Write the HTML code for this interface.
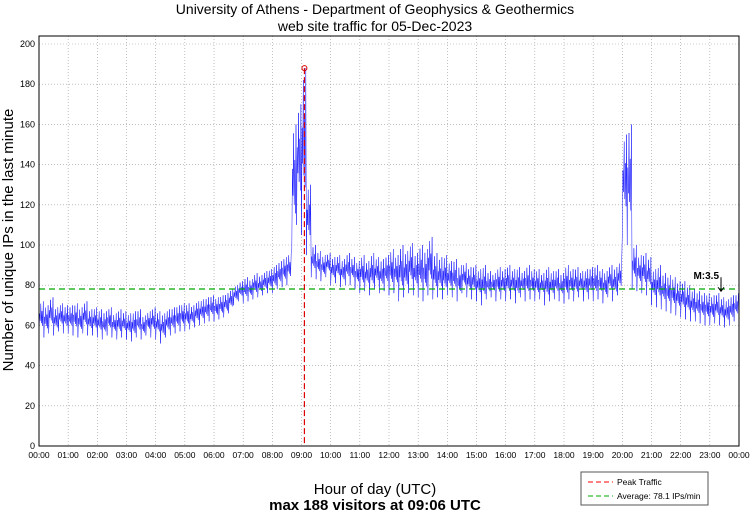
<!DOCTYPE html>
<html><head><meta charset="utf-8"><style>
body{margin:0;background:#fff;}
svg{display:block;font-family:"Liberation Sans",sans-serif;}
</style></head><body>
<svg id="chart" width="750" height="511">
<text x="375" y="14" text-anchor="middle" font-size="14">University of Athens - Department of Geophysics &amp; Geothermics</text>
<text x="375" y="31" text-anchor="middle" font-size="14">web site traffic for 05-Dec-2023</text>
<text transform="translate(13,240) rotate(-90)" text-anchor="middle" font-size="15">Number of unique IPs in the last minute</text>
<text x="375" y="494" text-anchor="middle" font-size="15">Hour of day (UTC)</text>
<text x="375" y="510" text-anchor="middle" font-size="15" font-weight="bold">max 188 visitors at 09:06 UTC</text>
<g id="grid"></g><g id="ticks"></g><g id="series"></g><g id="overlay"></g>
<rect x="39" y="36" width="700" height="410" fill="none" stroke="#000" stroke-width="1"/>
<g>
<rect x="581" y="472" width="127" height="33" fill="#fff" stroke="#555"/>
<line x1="588" y1="482" x2="613" y2="482" stroke="red" stroke-dasharray="5,3"/>
<text x="617" y="485" font-size="8.5">Peak Traffic</text>
<line x1="588" y1="496" x2="613" y2="496" stroke="#0a0" stroke-dasharray="5,3"/>
<text x="617" y="499" font-size="8.5">Average: 78.1 IPs/min</text>
</g>
</svg>
<script>
const lows=[55,54,56,55,57,56, 56,55,54,56,55,55, 54,53,55,54,53,54, 53,52,54,53,55,54, 53,51,54,55,56,57, 57,58,59,60,61,62,
62,63,64,66,70,72, 71,72,73,74,75,76, 76,78,79,80,98,110, 105,95,84,83,82,84, 80,81,79,80,80,78, 76,77,75,78,76,77,
75,76,72,74,76,75, 74,72,75,73,74,73, 75,74,72,76,74,73, 72,70,73,74,72,73, 72,73,71,74,72,73, 72,73,70,72,73,72,
71,73,72,74,72,73, 72,73,71,74,72,75, 105,100,78,77,76,75, 70,69,68,67,66,65, 64,63,62,62,61,60, 60,61,60,59,60,62];
const highs=[72,70,74,69,71,70, 70,71,69,72,68,69, 68,67,69,66,68,67, 66,67,68,65,67,69, 67,66,68,69,70,71, 71,70,72,73,74,75,
74,75,76,78,80,82, 84,83,86,85,87,88, 90,92,94,96,160,170, 188,130,100,97,95,96, 94,95,93,96,94,92, 95,92,96,94,93,95,
98,95,100,97,101,96, 100,98,104,96,94,95, 92,93,90,91,89,90, 88,90,87,86,89,88, 90,88,89,87,90,88, 88,86,89,87,88,86,
90,88,89,87,88,89, 90,88,87,90,89,92, 155,160,100,95,96,94, 88,90,86,85,84,82, 82,80,78,77,76,76, 75,76,74,73,75,76];
const yTicks=[0,20,40,60,80,100,120,140,160,180,200];
const xTickLabels=["00:00","01:00","02:00","03:00","04:00","05:00","06:00","07:00","08:00","09:00","10:00","11:00","12:00","13:00","14:00","15:00","16:00","17:00","18:00","19:00","20:00","21:00","22:00","23:00","00:00"];
const peakValue=188, peakMinute=546, averageValue=78.1;
const mLabel="M:3.5", mMinute=1403, mValue=76;

const NS="http://www.w3.org/2000/svg";
const X0=39,X1=739,Y0=446,YS=2.01;
const xs=m=>X0+m*(X1-X0)/1440;
const ys=v=>Y0-v*YS;
function mk(tag,parent,attrs){const e=document.createElementNS(NS,tag);for(const k in attrs)e.setAttribute(k,attrs[k]);document.getElementById(parent).appendChild(e);return e;}

yTicks.forEach(v=>{
  const g=mk('line','grid',{x1:X0,x2:X1,y1:ys(v),y2:ys(v),stroke:'#999','stroke-width':0.6,'stroke-dasharray':'1,2'});
  
  
  const t=mk('text','ticks',{x:X0-4,y:ys(v)+3,'text-anchor':'end','font-size':9});
  t.textContent=v;
  
  
});
xTickLabels.forEach((lab,i)=>{
  const x=xs(i*60);
  const g=mk('line','grid',{x1:x,x2:x,y1:36,y2:Y0,stroke:'#999','stroke-width':0.6,'stroke-dasharray':'1,2'});
  
  
  const t=mk('text','ticks',{x:x,y:458,'text-anchor':'middle','font-size':8.5});
  t.textContent=lab;
  
  
});
let pts=[];
const sub=8;
lows.forEach((lo,i)=>{
  const hi=highs[i];
  for(let k=0;k<sub;k++){
    const m=i*10+k*10/sub;
    const v=(k%2===0)?lo+(hi-lo)*((k*3)%7)/14:hi-(hi-lo)*((k*5)%7)/14;
    pts.push(xs(m).toFixed(1)+','+ys(v).toFixed(1));
  }
});
const line=mk('polyline','series',{points:pts.join(' '),fill:'none',stroke:'#00f','stroke-width':0.45});



const avg=mk('line','overlay',{x1:X0,x2:X1,y1:ys(averageValue),y2:ys(averageValue),stroke:'#0a0','stroke-width':1.2,'stroke-dasharray':'6,4'});


const pk=mk('line','overlay',{x1:xs(peakMinute),x2:xs(peakMinute),y1:ys(peakValue),y2:Y0,stroke:'#d00','stroke-width':1.2,'stroke-dasharray':'6,3'});


const pc=mk('circle','overlay',{cx:xs(peakMinute),cy:ys(peakValue),r:2.5,fill:'none',stroke:'#d00','stroke-width':1});


const mt=mk('text','overlay',{x:xs(mMinute)-2,y:ys(mValue)-14,'text-anchor':'end','font-size':10,'font-weight':'bold'});
mt.textContent=mLabel;


const ma=mk('path','overlay',{d:`M${xs(mMinute)} ${ys(mValue)-16} V${ys(mValue)-2} M${xs(mMinute)-3} ${ys(mValue)-6} L${xs(mMinute)} ${ys(mValue)-2} L${xs(mMinute)+3} ${ys(mValue)-6}`,fill:'none',stroke:'#000','stroke-width':1});


</script>
</body></html>
